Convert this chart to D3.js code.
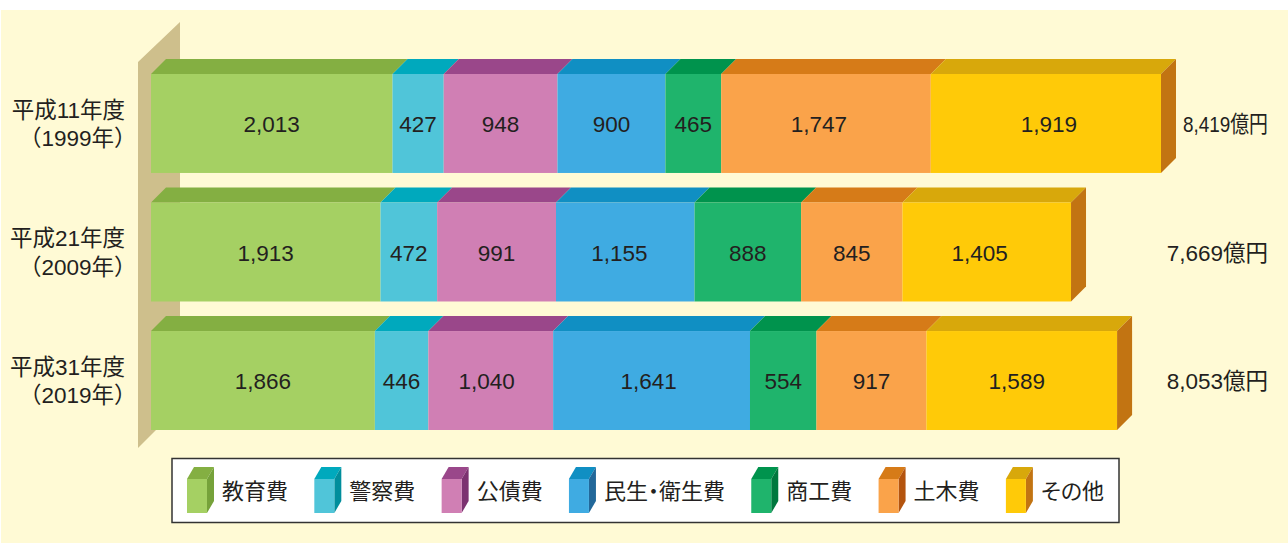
<!DOCTYPE html>
<html lang="ja">
<head>
<meta charset="utf-8">
<script src="https://cdn.jsdelivr.net/npm/d3@7/dist/d3.min.js"></script>
<style>
  html, body { margin: 0; background: #fff; }
  svg { display: block; }
  text { font-family: "Liberation Sans", "Noto Sans CJK JP", sans-serif; fill: #231f20; font-size: 22.5px; }
  .legend-label { font-size: 22px; }
</style>
</head>
<body>
<div id="chart"></div>
<script>
/* 歳出の推移 - stacked 3D-look bars */

const years = ["平成11年度", "平成21年度", "平成31年度"];
const yearsSub = ["（1999年）", "（2009年）", "（2019年）"];
const categories = ["教育費", "警察費", "公債費", "民生・衛生費", "商工費", "土木費", "その他"];

const edu = [2013, 1913, 1866];
const police = [427, 472, 446];
const debt = [948, 991, 1040];
const welfare = [900, 1155, 1641];
const commerce = [465, 888, 554];
const civil = [1747, 845, 917];
const other = [1919, 1405, 1589];
const totals = [8419, 7669, 8053];

const frontColors = ["#a5d063", "#50c5d9", "#d07fb4", "#3fabe2", "#1fb46c", "#faa34a", "#ffca08"];
const topColors = ["#84af42", "#00a9bd", "#9a478a", "#108fc3", "#00934d", "#d67b18", "#d8a80b"];
const sideColors = ["#76a23a", "#008e9c", "#7c3270", "#22689a", "#00773e", "#b4540e", "#c27412"];

// the reference doesn't quite centre some value labels, "row-series": px
const labelNudge = { "0-5": -7, "0-6": 3, "1-3": -6, "1-6": -7, "2-2": -4, "2-3": -3, "2-6": -5 };

const width = 1288,
    height = 544,
    depth = 15; // how far the bars stick out backwards

const svg = d3.select("#chart")
    .append("svg")
    .attr("width", width)
    .attr("height", height)
    .attr("viewBox", [0, 0, width, height]);

// panel
svg.append("rect")
    .attr("x", 1).attr("y", 10)
    .attr("width", width - 1).attr("height", height - 11)
    .attr("fill", "#fffad5");

const rows = years.map((y, i) => {
    const row = { year: y };
    [edu, police, debt, welfare, commerce, civil, other].forEach((s, j) => row[categories[j]] = s[i]);
    return row;
});

const stacked = d3.stack().keys(categories)(rows);

const x = d3.scaleLinear()
    .domain([0, d3.max(totals)])
    .range([151, 1161]);

const y = d3.scaleBand()
    .domain(years)
    .range([74, 430])
    .paddingInner(0.23);

// back wall
const wallX = 138, wallY = 62, wallW = 42, wallDrop = 40;
svg.append("path")
    .attr("fill", "#cebf8c")
    .attr("d", d3.line()([
        [wallX, wallY],
        [wallX + wallW, wallY - wallDrop],
        [wallX + wallW, y.range()[1]],
        [wallX + 18, y.range()[1]],
        [wallX, y.range()[1] + 18]
    ]) + "Z");

const poly = pts => d3.line()(pts) + "Z";

// bars, series by series
const rowG = svg.selectAll("g.row")
    .data(years)
    .join("g")
    .attr("class", "row");

rowG.each(function(yr, i) {
    const g = d3.select(this);
    const y0 = y(yr), y1 = y0 + y.bandwidth();

    stacked.forEach((s, j) => {
        const a = x(s[i][0]), b = x(s[i][1]);

        g.append("path")
            .attr("fill", topColors[j])
            .attr("d", poly([[a, y0], [a + depth, y0 - depth], [b + depth, y0 - depth], [b, y0]]));

        g.append("rect")
            .attr("x", a).attr("y", y0)
            .attr("width", b - a).attr("height", y.bandwidth())
            .attr("fill", frontColors[j]);

        g.append("text")
            .attr("x", (a + b) / 2 + (labelNudge[`${i}-${j}`] || 0))
            .attr("y", (y0 + y1) / 2 + 8.5)
            .attr("text-anchor", "middle")
            .text(d3.format(",")(s[i][1] - s[i][0]));
    });

    // end cap
    const end = x(totals[i]);
    g.append("path")
        .attr("fill", sideColors[6])
        .attr("d", poly([[end, y0], [end + depth, y0 - depth], [end + depth, y1 - depth], [end, y1]]));

    // row labels
    g.append("text")
        .attr("x", 125).attr("y", y0 + 43.5)
        .attr("text-anchor", "end")
        .text(yr);
    g.append("text")
        .attr("x", 136.5).attr("y", y0 + 72)
        .attr("text-anchor", "end")
        .text(yearsSub[i]);

    // totals, the first one is squeezed in next to the longest bar
    const total = g.append("text")
        .attr("x", 1268).attr("y", y0 + 58)
        .attr("text-anchor", "end")
        .text(d3.format(",")(totals[i]) + "億円");
    if (i === 0) {
        total.attr("x", 1183).attr("text-anchor", "start")
            .attr("textLength", 85).attr("lengthAdjust", "spacingAndGlyphs");
    }
});

// legend
svg.append("rect")
    .attr("x", 172).attr("y", 458.5)
    .attr("width", 947).attr("height", 64)
    .attr("fill", "#fff")
    .attr("stroke", "#333")
    .attr("stroke-width", 1.5);

let cursor = 187;
categories.forEach((c, j) => {
    const g = svg.append("g").attr("transform", `translate(${cursor},479)`);
    const w = 20, h = 34, dx = 7, dy = 12;

    g.append("path").attr("fill", topColors[j])
        .attr("d", poly([[0, 0], [dx, -dy], [w + dx, -dy], [w, 0]]));
    g.append("path").attr("fill", sideColors[j])
        .attr("d", poly([[w, 0], [w + dx, -dy], [w + dx, h - dy], [w, h]]));
    g.append("rect").attr("width", w).attr("height", h).attr("fill", frontColors[j]);

    const label = g.append("text")
        .attr("class", "legend-label")
        .attr("x", 35).attr("y", 20)
        .style("font-feature-settings", /[・そ]/.test(c) ? '"palt"' : null)
        .text(c);

    cursor += 35 + label.node().getComputedTextLength() + 26.3;
});
</script>
</body>
</html>
